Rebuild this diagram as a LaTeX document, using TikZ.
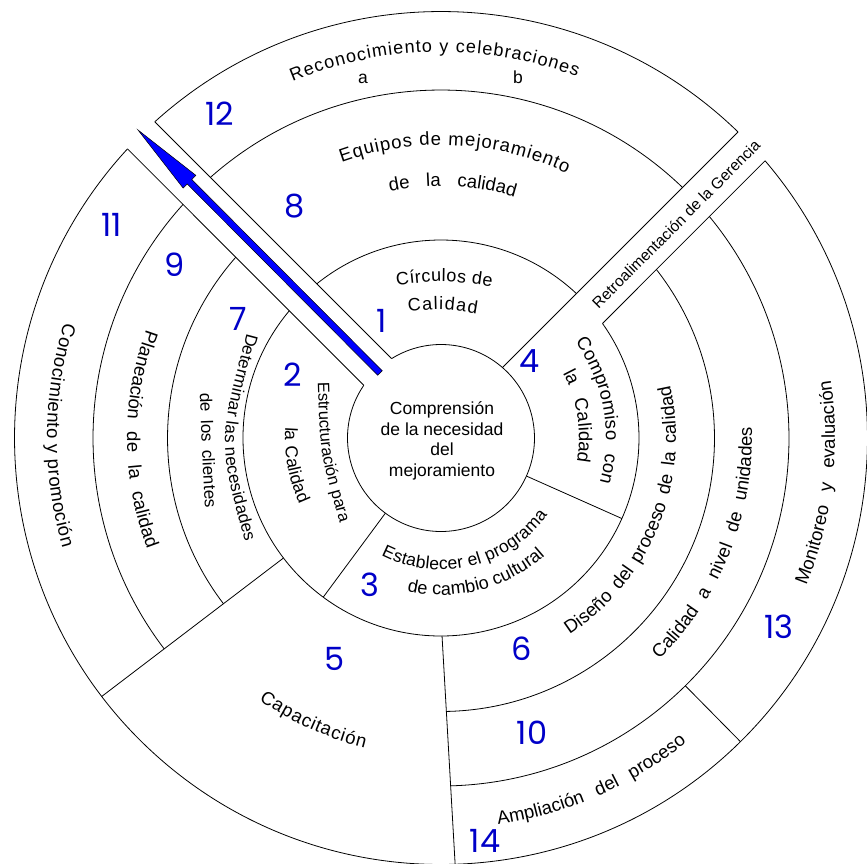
\documentclass[tikz,border=0pt]{standalone}
\usepackage{fontspec}
\setmainfont{Liberation Sans}
\newfontfamily\digitfont{Poppins}
\usetikzlibrary{decorations.text}
\definecolor{numblue}{RGB}{0,0,200}
\definecolor{arrowblue}{RGB}{0,0,255}

\tikzset{
  ringline/.style={draw=black, line width=0.8pt},
  segnum/.style={font=\digitfont\fontsize{32}{32}\selectfont, text=numblue, inner sep=0pt},
  plainlabel/.style={font=\fontsize{17.5}{20.7}\selectfont, inner sep=0pt},
  curvedtext/.style 2 args={decorate, decoration={text along path,
      text={|\fontsize{#1}{#1}\selectfont|#2}, text align={fit to path}}},
  spacedtext/.style 2 args={decorate, decoration={text along path,
      text={|\fontsize{#1}{#1}\selectfont|#2}, text align={fit to path stretching spaces}}},
}

\begin{document}
\begin{tikzpicture}[x=1pt, y=1pt]
\def\rA{93.5}\def\rB{198}\def\rC{273.5}\def\rD{348}\def\rE{426.5}
\fill[white] (-441,-425) rectangle (426,438);
\useasboundingbox (-441,-425) rectangle (426,438);

% ---- concentric ring arcs (interrupted by the two bands) ----
\draw[ringline] (145.66:\rA) arc[start angle=145.66, end angle=481.9, radius=\rA];
\draw[ringline] (46.85:\rB) arc[start angle=46.85, end angle=128.85, radius=\rB];
\draw[ringline] (140.01:\rB) arc[start angle=140.01, end angle=395.35, radius=\rB];
\draw[ringline] (138.63:\rC) arc[start angle=138.63, end angle=217.3, radius=\rC];
\draw[ringline] (271.1:\rC) arc[start angle=271.1, end angle=398.03, radius=\rC];
\draw[ringline] (46.05:\rD) arc[start angle=46.05, end angle=131.51, radius=\rD];
\draw[ringline] (137.85:\rD) arc[start angle=137.85, end angle=217.3, radius=\rD];
\draw[ringline] (271.6:\rD) arc[start angle=271.6, end angle=399.53, radius=\rD];
\draw[ringline] (45.86:\rE) arc[start angle=45.86, end angle=132.15, radius=\rE];
\draw[ringline] (137.32:\rE) arc[start angle=137.32, end angle=400.54, radius=\rE];

% ---- radial dividers ----
\draw[ringline] (121.9:\rA) -- (132.15:\rE);
\draw[ringline] (145.66:\rA) -- (137.32:\rE);
\draw[ringline] (48.92:\rA) -- (45.86:\rE);
\draw[ringline] (35.35:\rB) -- (40.54:\rE);
\draw[ringline] (-24:\rA) -- (-24:\rB);
\draw[ringline] (233.5:\rA) -- (233.5:\rB);
\draw[ringline] (217.3:\rB) -- (217.3:\rE);
\draw[ringline] (270.3:\rB) -- (271.9:\rE);
\draw[ringline] (-45.4:\rD) -- (-45.4:\rE);

% ---- blue arrow along the upper-left band ----
\coordinate (arrowtail) at (-61,65);
\coordinate (arrowtip) at (-303,308);
\begin{scope}[shift={(arrowtail)}, rotate=134.88]
  \filldraw[fill=arrowblue, draw=black, line width=0.5pt]
    (0,-3.2) -- (270,-3.2) -- (270,-9) -- (343,0) -- (270,9) -- (270,3.2) -- (0,3.2) -- cycle;
\end{scope}

% ---- centre ----
\node[plainlabel, align=center] (centre) at (1,-3)
  {Comprensión\\de la necesidad\\del\\mejoramiento};

% ---- curved labels ----
\path[curvedtext={18}{Reconocimiento y celebraciones}] (112.6:386) arc[start angle=112.6, end angle=69.4, radius=386];
\node[plainlabel] (lettera) at (-78,359) {a};
\node[plainlabel] (letterb) at (77,361) {b};
\path[curvedtext={18.5}{Equipos de mejoramiento}] (109.8:293) arc[start angle=109.8, end angle=64.6, radius=293];
\path[spacedtext={18.5}{de la calidad}] (101.7:252) arc[start angle=101.7, end angle=73, radius=252];
\path[curvedtext={18}{Círculos de}] (-44.3,153) .. controls (3,158) .. (50.7,151.3);
\path[curvedtext={18}{Calidad}] (-32.7,126.3) .. controls (1.5,129.5) .. (35.7,124);
\path[spacedtext={18.5}{Compromiso con}] (35.6:165) arc[start angle=35.6, end angle=-15.8, radius=165];
\path[spacedtext={18.5}{la Calidad}] (28:138) arc[start angle=28, end angle=-10, radius=138];
\path[curvedtext={16.5}{Estructuración para}] (-123,56) .. controls (-121,-15.5) .. (-101,-85);
\path[spacedtext={17.5}{la Calidad}] (176:156) arc[start angle=176, end angle=205, radius=156];
\path[curvedtext={17}{Determinar las necesidades}] (-194,105) .. controls (-223,-4.5) .. (-196,-104);
\path[spacedtext={17}{de los clientes}] (-241,45) .. controls (-239,-12.5) .. (-236,-70);
\path[spacedtext={18.5}{Planeación de la calidad}] (159.8:314) arc[start angle=159.8, end angle=200.7, radius=314];
\path[curvedtext={18.5}{Conocimiento y promoción}] (163:394) arc[start angle=163, end angle=196.2, radius=394];
\path[curvedtext={17.5}{Establecer el programa}] (243:131.5) arc[start angle=243, end angle=324, radius=131.5];
\path[curvedtext={18}{de cambio cultural}] (257.5:157) arc[start angle=257.5, end angle=311.5, radius=157];
\path[curvedtext={18.5}{Capacitación}] (235.2:319) arc[start angle=235.2, end angle=256.2, radius=319];
\path[spacedtext={18.5}{Diseño del proceso de la calidad}] (-56.8:235) arc[start angle=-56.8, end angle=12.9, radius=235];
\path[spacedtext={18.5}{Calidad a nivel de unidades}] (-45.4:311) arc[start angle=-45.4, end angle=2, radius=311];
\path[spacedtext={18.5}{Monitoreo y evaluación}] (-22:394) arc[start angle=-22, end angle=8.4, radius=394];
\path[spacedtext={18.5}{Ampliación del proceso}] (-81.6:391) arc[start angle=-81.6, end angle=-51.1, radius=391];

% ---- feedback band label ----
\node[font=\fontsize{15.5}{18}\selectfont, inner sep=0pt, rotate=45] (retro) at (235,214)
  {Retroalimentación de la Gerencia};

% ---- segment numbers ----
\node[segnum] (n1)  at (-59,117)   {1};
\node[segnum] (n2)  at (-148,63)   {2};
\node[segnum] (n3)  at (-71,-147)  {3};
\node[segnum] (n4)  at (89,77)     {4};
\node[segnum] (n5)  at (-106,-221) {5};
\node[segnum] (n6)  at (81,-211)   {6};
\node[segnum] (n7)  at (-203,119)  {7};
\node[segnum] (n8)  at (-146,232)  {8};
\node[segnum] (n9)  at (-266,173)  {9};
\node[segnum] (n10) at (91,-295)   {10};
\node[segnum] (n11) at (-329,213)  {11};
\node[segnum] (n12) at (-221,324)  {12};
\node[segnum] (n13) at (338,-189)  {13};
\node[segnum] (n14) at (44,-403)   {14};
\end{tikzpicture}
\end{document}
